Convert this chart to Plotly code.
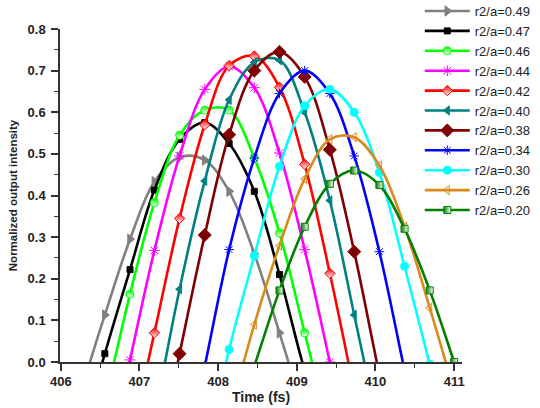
import plotly.graph_objects as go

# Common sampling times (fs)
TIME = [406.24, 406.56, 406.88, 407.19, 407.51, 407.83, 408.14, 408.46, 408.78,
        409.10, 409.42, 409.73, 410.05, 410.37, 410.69, 411.00, 411.32]

N = None
y_049 = [-0.08, 0.113, 0.295, 0.433, 0.492, 0.485, 0.41, 0.26, 0.07, -0.13, N, N, N, N, N, N, N]
y_047 = [-0.2, 0.02, 0.222, 0.413, 0.535, 0.575, 0.525, 0.41, 0.21, -0.02, -0.2, N, N, N, N, N, N]
y_046 = [N, -0.1, 0.163, 0.383, 0.545, 0.605, 0.605, 0.49, 0.31, 0.07, -0.17, N, N, N, N, N, N]
y_044 = [N, -0.27, 0.005, 0.268, 0.495, 0.655, 0.71, 0.659, 0.502, 0.27, 0.0, -0.27, N, N, N, N, N]
y_042 = [N, N, -0.197, 0.07, 0.345, 0.57, 0.712, 0.735, 0.66, 0.475, 0.213, -0.07, N, N, N, N, N]
y_040 = [N, N, N, -0.136, 0.175, 0.435, 0.63, 0.72, 0.725, 0.6, 0.388, 0.113, -0.17, N, N, N, N]
y_038 = [N, N, N, -0.27, 0.02, 0.305, 0.546, 0.7, 0.745, 0.685, 0.51, 0.265, -0.03, -0.3, N, N, N]
y_034 = [N, N, N, N, -0.29, -0.01, 0.27, 0.49, 0.645, 0.70, 0.645, 0.495, 0.265, -0.02, -0.3, N, N]
y_030 = [N, N, N, N, N, -0.245, 0.03, 0.255, 0.47, 0.615, 0.655, 0.6, 0.455, 0.23, -0.005, -0.25, N]
y_026 = [N, N, N, N, N, N, -0.13, 0.09, 0.28, 0.44, 0.535, 0.54, 0.472, 0.325, 0.13, -0.07, N]
y_020 = [N, N, N, N, N, N, -0.195, -0.01, 0.172, 0.325, 0.428, 0.46, 0.425, 0.32, 0.172, 0.0, -0.18]

labels = ["r2/a=0.49", "r2/a=0.47", "r2/a=0.46", "r2/a=0.44", "r2/a=0.42", "r2/a=0.40",
          "r2/a=0.38", "r2/a=0.34", "r2/a=0.30", "r2/a=0.26", "r2/a=0.20"]
series = [y_049, y_047, y_046, y_044, y_042, y_040, y_038, y_034, y_030, y_026, y_020]

colors = ["#808080", "#000000", "#00FF00", "#FF00FF", "#FF0000", "#008080",
          "#800000", "#0000FF", "#00FFFF", "#D98A1C", "#007F00"]
symbols = ["triangle-right", "square", "circle", "asterisk-open", "diamond", "triangle-left",
           "diamond", "asterisk-open", "circle", "triangle-left-open", "square"]
sizes = [9, 6, 8, 9, 8, 8, 10, 8, 8, 8, 7]
gradients = [None, None, ("vertical", "white"), None, ("vertical", "white"), None,
             None, None, None, None, ("horizontal", "white")]

fig = go.Figure()
for lab, ys, c, s, sz, g in zip(labels, series, colors, symbols, sizes, gradients):
    marker = dict(symbol=s, size=sz, color=c, line=dict(color=c, width=1))
    if g is not None:
        marker["gradient"] = dict(type=g[0], color=g[1])
    fig.add_trace(go.Scatter(
        x=TIME, y=ys, name=lab, mode="lines+markers",
        line=dict(color=c, width=2.6, shape="spline", smoothing=1.0),
        marker=marker,
    ))

axis_font = dict(family="Arial", size=13, color="#222222", weight="bold")
fig.update_layout(
    width=540, height=408,
    margin=dict(l=60, r=78, t=29, b=46, autoexpand=False),
    paper_bgcolor="white", plot_bgcolor="white",
    showlegend=True,
    legend=dict(x=0.895, y=1.099, xanchor="left", yanchor="top",
                font=dict(family="Arial", size=13, color="#222222"),
                bgcolor="rgba(0,0,0,0)", itemwidth=45, tracegroupgap=0,
                itemsizing="trace", maxheight=1.0),
    font=dict(family="Arial"),
)
fig.update_xaxes(
    range=[405.99, 411.1], showgrid=False, zeroline=False,
    showline=True, linecolor="#333333", linewidth=1.5,
    ticks="outside", ticklen=7, tickwidth=1.5, tickcolor="#333333",
    tickmode="linear", tick0=406, dtick=1, tickfont=axis_font,
    minor=dict(ticks="outside", ticklen=4, dtick=0.5, tick0=406, tickcolor="#333333", tickwidth=1.2),
    title=dict(text="Time (fs)", font=dict(family="Arial", size=14, color="#222222", weight="bold"), standoff=2),
)
fig.update_yaxes(
    range=[0, 0.8], showgrid=False, zeroline=False,
    showline=True, linecolor="#333333", linewidth=1.5,
    ticks="outside", ticklen=7, tickwidth=1.5, tickcolor="#333333",
    tickmode="linear", tick0=0, dtick=0.1, tickformat=".1f", tickfont=axis_font,
    ticklabelstandoff=3,
    minor=dict(ticks="outside", ticklen=4, dtick=0.05, tick0=0, tickcolor="#333333", tickwidth=1.2),
    title=dict(text="Normalized output intensity", font=dict(family="Arial", size=11.5, color="#222222", weight="bold"), standoff=8),
)
fig.write_html("out.html", config={"displayModeBar": False},
               post_script="document.body.style.margin='0';document.body.style.overflow='hidden';")
